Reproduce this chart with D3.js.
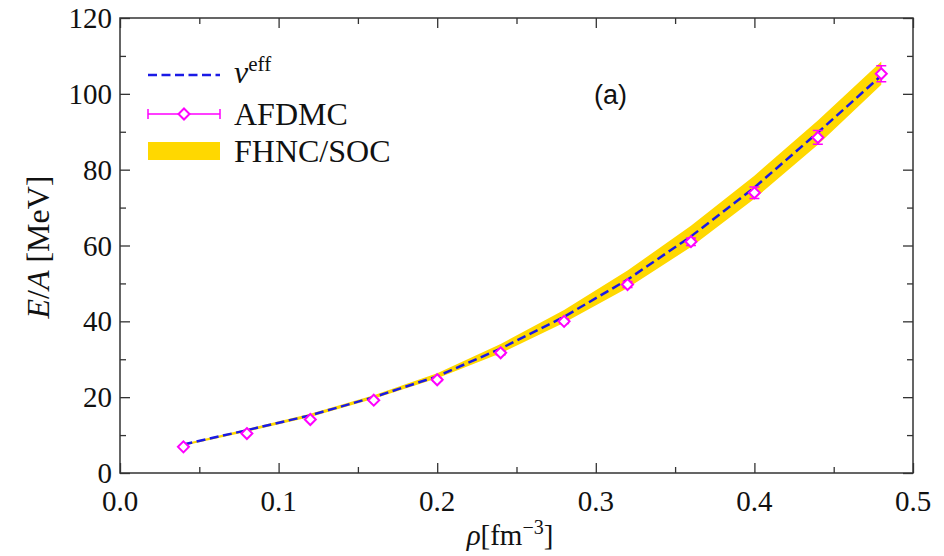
<!DOCTYPE html>
<html>
<head>
<meta charset="utf-8">
<script src="https://cdn.jsdelivr.net/npm/d3@7"></script>
<style>
  html, body { margin: 0; padding: 0; background: #fff; overflow: hidden; }
  svg { display: block; }
  svg text { font-family: "Liberation Serif", "DejaVu Serif", serif; }
</style>
</head>
<body>
<div id="chart"></div>
<script>
// densities (fm^-3)
const rho = [0.04, 0.08, 0.12, 0.16, 0.20, 0.24, 0.28, 0.32, 0.36, 0.40, 0.44, 0.48];
// v_eff curve
const veff = [7.5, 11.3, 15.2, 20.0, 25.5, 32.8, 41.2, 51.0, 62.4, 75.3, 89.8, 104.8];
// AFDMC points and errors
const afdmc = [6.9, 10.4, 14.1, 19.2, 24.6, 31.7, 40.0, 49.7, 61.0, 73.9, 88.5, 105.3];
const afdmcErr = [0.1, 0.15, 0.2, 0.3, 0.4, 0.5, 0.6, 0.8, 1.0, 1.5, 1.8, 2.1];
// FHNC/SOC band
const fhncLow = [7.2, 10.9, 14.8, 19.6, 25.0, 31.6, 39.6, 48.8, 59.6, 72.3, 86.6, 102.4];
const fhncHigh = [7.7, 11.6, 15.6, 20.5, 26.3, 34.0, 43.0, 53.4, 65.2, 78.4, 93.0, 108.5];

const xTicks = [0.0, 0.1, 0.2, 0.3, 0.4, 0.5];
const yTicks = [0, 20, 40, 60, 80, 100, 120];

const width = 944, height = 556;
const margin = { top: 18, right: 31, bottom: 83, left: 120 };
const innerWidth = width - margin.left - margin.right,
    innerHeight = height - margin.top - margin.bottom;

const svg = d3.select('#chart')
    .append('svg')
    .attr('width', width)
    .attr('height', height);

const g = svg.append('g')
    .attr('transform', 'translate(' + margin.left + ',' + margin.top + ')');

const xScale = d3.scaleLinear().domain([0, 0.5]).range([0, innerWidth]);
const yScale = d3.scaleLinear().domain([0, 120]).range([innerHeight, 0]);

const data = rho.map((r, i) => ({
    rho: r, veff: veff[i], afdmc: afdmc[i], err: afdmcErr[i],
    lo: fhncLow[i], hi: fhncHigh[i]
}));

// FHNC/SOC band
const band = d3.area()
    .x(d => xScale(d.rho))
    .y0(d => yScale(d.lo))
    .y1(d => yScale(d.hi));

g.append('path')
    .datum(data)
    .attr('d', band)
    .attr('fill', '#ffd800');

// v_eff dashed line
const line = d3.line()
    .x(d => xScale(d.rho))
    .y(d => yScale(d.veff));

g.append('path')
    .datum(data)
    .attr('d', line)
    .attr('fill', 'none')
    .attr('stroke', '#1a1ae6')
    .attr('stroke-width', 2.5)
    .attr('stroke-dasharray', '9,4.5');

// AFDMC error bars + diamonds
const magenta = '#ff00ff';
const pts = g.append('g');
const cap = 5;
pts.selectAll('.err')
    .data(data)
    .enter()
    .append('path')
    .attr('d', d => {
        const x = xScale(d.rho), y0 = yScale(d.afdmc - d.err), y1 = yScale(d.afdmc + d.err);
        return 'M' + x + ',' + y0 + 'V' + y1 +
            'M' + (x - cap) + ',' + y0 + 'H' + (x + cap) +
            'M' + (x - cap) + ',' + y1 + 'H' + (x + cap);
    })
    .attr('stroke', magenta)
    .attr('stroke-width', 1.5)
    .attr('fill', 'none');

const diamond = s => 'M0,' + (-s) + 'L' + s + ',0L0,' + s + 'L' + (-s) + ',0Z';
pts.selectAll('.pt')
    .data(data)
    .enter()
    .append('path')
    .attr('transform', d => 'translate(' + xScale(d.rho) + ',' + yScale(d.afdmc) + ')')
    .attr('d', diamond(5.5))
    .attr('fill', '#fff')
    .attr('stroke', magenta)
    .attr('stroke-width', 2);

// axes: ticks inside on all sides (lines only from d3.axis)
const minorX = [0.05, 0.15, 0.25, 0.35, 0.45];
const minorY = [10, 30, 50, 70, 90, 110];
const fmtX = d3.format('.1f');

const tickAxes = [
    g.append('g').attr('transform', 'translate(0,' + innerHeight + ')')
        .call(d3.axisBottom(xScale).tickValues(xTicks).tickSize(-10)),
    g.append('g').attr('transform', 'translate(0,' + innerHeight + ')')
        .call(d3.axisBottom(xScale).tickValues(minorX).tickSize(-6)),
    g.append('g').call(d3.axisTop(xScale).tickValues(xTicks).tickSize(-10)),
    g.append('g').call(d3.axisTop(xScale).tickValues(minorX).tickSize(-6)),
    g.append('g').call(d3.axisLeft(yScale).tickValues(yTicks).tickSize(-10)),
    g.append('g').call(d3.axisLeft(yScale).tickValues(minorY).tickSize(-6)),
    g.append('g').attr('transform', 'translate(' + innerWidth + ',0)')
        .call(d3.axisRight(yScale).tickValues(yTicks).tickSize(-10)),
    g.append('g').attr('transform', 'translate(' + innerWidth + ',0)')
        .call(d3.axisRight(yScale).tickValues(minorY).tickSize(-6))
];
tickAxes.forEach(a => {
    a.selectAll('text').remove();
    a.select('.domain').remove();
    a.selectAll('line').attr('stroke', '#333').attr('stroke-width', 1.3);
});

// tick labels
g.append('g').selectAll('text')
    .data(xTicks)
    .enter()
    .append('text')
    .attr('x', d => xScale(d))
    .attr('y', innerHeight + 38)
    .attr('text-anchor', 'middle')
    .attr('font-size', 29)
    .attr('fill', '#111')
    .text(fmtX);

g.append('g').selectAll('text')
    .data(yTicks)
    .enter()
    .append('text')
    .attr('x', -8)
    .attr('y', d => yScale(d) + 10)
    .attr('text-anchor', 'end')
    .attr('font-size', 29)
    .attr('fill', '#111')
    .text(d => d);

g.append('rect')
    .attr('width', innerWidth)
    .attr('height', innerHeight)
    .attr('fill', 'none')
    .attr('stroke', '#333')
    .attr('stroke-width', 1.5);

// axis labels
svg.append('text')
    .attr('x', 510)
    .attr('y', 545)
    .attr('text-anchor', 'middle')
    .attr('font-size', 29)
    .attr('fill', '#111')
    .html('<tspan font-style="italic">ρ</tspan>[fm<tspan dy="-11" font-size="20">−3</tspan><tspan dy="11">]</tspan>');

svg.append('text')
    .attr('transform', 'translate(49,247) rotate(-90)')
    .attr('text-anchor', 'middle')
    .attr('font-size', 32)
    .attr('fill', '#111')
    .html('<tspan font-style="italic">E</tspan>/<tspan font-style="italic">A</tspan> [MeV]');

// panel tag
svg.append('text')
    .attr('x', 594)
    .attr('y', 104)
    .style('font-family', '"Liberation Sans", Arial, sans-serif')
    .attr('font-size', 27)
    .attr('fill', '#111')
    .text('(a)');

// legend
const leg = svg.append('g');
leg.append('line')
    .attr('x1', 148).attr('x2', 220).attr('y1', 75).attr('y2', 75)
    .attr('stroke', '#1a1ae6').attr('stroke-width', 2.5).attr('stroke-dasharray', '9,4.5');
leg.append('text')
    .attr('x', 234).attr('y', 83)
    .attr('font-size', 32).attr('fill', '#111')
    .html('<tspan font-style="italic">v</tspan><tspan dy="-12" font-size="21">eff</tspan>');

leg.append('path')
    .attr('d', 'M148,114H220M148,109V119M220,109V119')
    .attr('stroke', magenta).attr('stroke-width', 1.5).attr('fill', 'none');
leg.append('path')
    .attr('transform', 'translate(184,114)')
    .attr('d', diamond(5.5))
    .attr('fill', '#fff').attr('stroke', magenta).attr('stroke-width', 2);
leg.append('text')
    .attr('x', 234).attr('y', 125)
    .attr('font-size', 32).attr('fill', '#111')
    .text('AFDMC');

leg.append('rect')
    .attr('x', 148).attr('y', 142).attr('width', 72).attr('height', 18)
    .attr('fill', '#ffd800');
leg.append('text')
    .attr('x', 234).attr('y', 162)
    .attr('font-size', 32).attr('fill', '#111')
    .text('FHNC/SOC');
</script>
</body>
</html>
